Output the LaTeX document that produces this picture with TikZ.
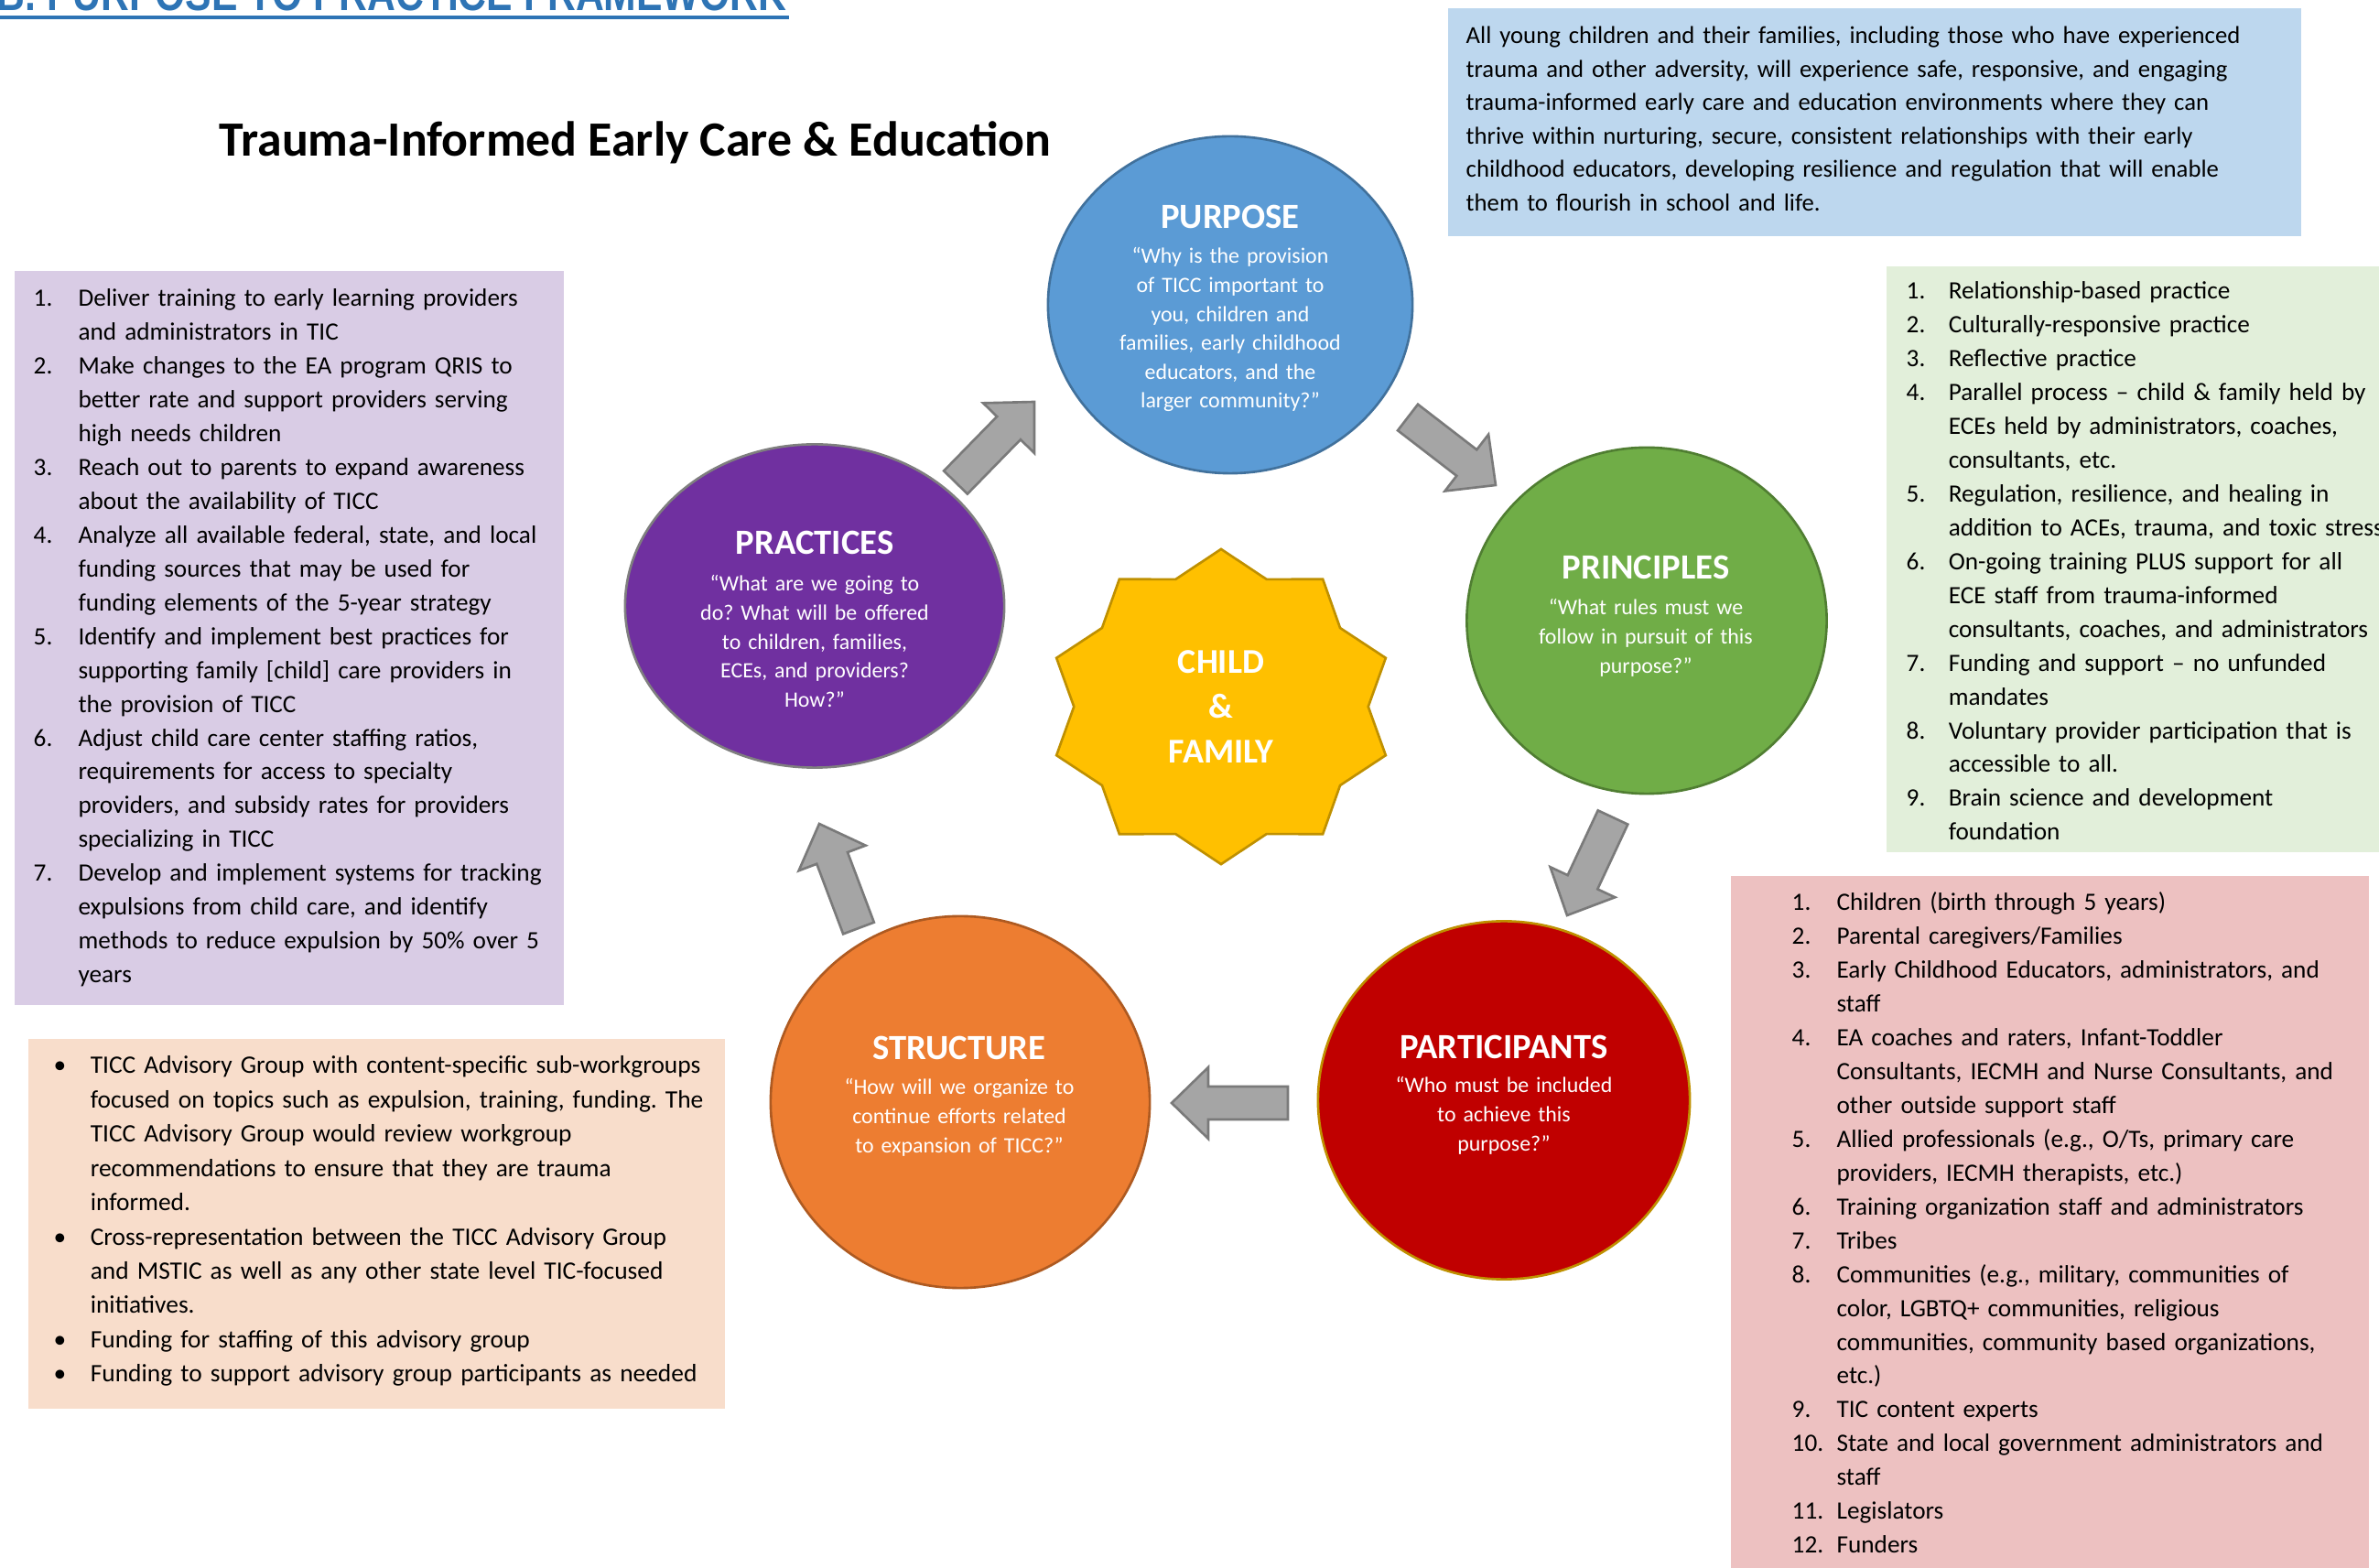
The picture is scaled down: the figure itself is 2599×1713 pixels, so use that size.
\documentclass[tikz,border=0pt]{standalone}
\usepackage{fontspec}
\setmainfont{Carlito}
\newfontfamily\headfont[FakeStretch=0.82]{Liberation Sans}
\usetikzlibrary{shapes.geometric,calc}
\frenchspacing

\definecolor{purposeblue}{HTML}{5B9BD5}
\definecolor{purposeedge}{HTML}{41719C}
\definecolor{principgreen}{HTML}{70AD47}
\definecolor{principedge}{HTML}{507E32}
\definecolor{partred}{HTML}{C00000}
\definecolor{goldedge}{HTML}{BF9000}
\definecolor{structorange}{HTML}{ED7D31}
\definecolor{structedge}{HTML}{AE5A21}
\definecolor{pracpurple}{HTML}{7030A0}
\definecolor{pracedge}{HTML}{7F7F7F}
\definecolor{childgold}{HTML}{FFC000}
\definecolor{arrowgray}{HTML}{A5A5A5}
\definecolor{arrowedge}{HTML}{7A7A7A}
\definecolor{headblue}{HTML}{2E74B5}
\definecolor{visionbox}{HTML}{BDD7EE}
\definecolor{pracbox}{HTML}{D9CCE5}
\definecolor{princbox}{HTML}{E2EFDA}
\definecolor{partbox}{HTML}{EDC1C1}
\definecolor{structbox}{HTML}{F8DDCB}

\newlength\listind
\newcommand\li[2]{\makebox[\listind][l]{#1}#2}
\newcommand\lc[1]{\hspace*{\listind}#1}

\newcommand\blockarrow[2]{%
  \coordinate (#1-hb) at ($(#2)!0.4cm!(#1)$);
  \filldraw[blockarr] ($(#1)!0.18cm!90:(#2)$) -- ($(#1-hb)!0.18cm!90:(#2)$)
    -- ($(#1-hb)!0.39cm!90:(#2)$) -- (#2) -- ($(#1-hb)!0.39cm!-90:(#2)$)
    -- ($(#1-hb)!0.18cm!-90:(#2)$) -- ($(#1)!0.18cm!-90:(#2)$) -- cycle;
}

\begin{document}
\begin{tikzpicture}[x=0.01cm,y=-0.01cm,
  circ/.style={ellipse,inner sep=0pt,line width=0.75pt},
  ctitle/.style={font=\fontsize{11}{13}\selectfont\bfseries,text=white,inner sep=0pt},
  cbody/.style={font=\fontsize{6.8}{8.96}\selectfont,text=white,align=center,text width=3.4cm,inner sep=0pt,anchor=base},
  listbox/.style={anchor=north west,inner sep=0pt},
  listtext/.style={font=\fontsize{7.75}{10.5}\selectfont,align=left,text width=10cm,inner sep=0pt,anchor=base west},
  blockarr/.style={fill=arrowgray,draw=arrowedge,line width=0.75pt,line join=miter}]
\useasboundingbox (0,0) rectangle (2599,1713);

\node at (-4,12) [anchor=base west,inner sep=0pt,text=headblue,font=\headfont\bfseries\fontsize{14.8}{16}\selectfont] (framework) {B. PURPOSE TO PRACTICE FRAMEWORK};
\draw[headblue,line width=1.3pt] (0,19) -- (862,19);

\node at (239,171) [anchor=base west,inner sep=0pt,font=\fontsize{15.3}{18}\selectfont\bfseries] (title) {Trauma-Informed Early Care \& Education};

\node at (1581,8) [listbox,fill=visionbox,minimum width=9.32cm,minimum height=2.49cm] (vision-box) {};
\node at (1601,48) [listtext,font=\fontsize{7.6}{10.38}\selectfont] (vision) {All young children and their families, including those who have experienced\\
trauma and other adversity, will experience safe, responsive, and engaging\\
trauma-informed early care and education environments where they can\\
thrive within nurturing, secure, consistent relationships with their early\\
childhood educators, developing resilience and regulation that will enable\\
them to flourish in school and life.};

\node at (15,295) [listbox,fill=pracbox,minimum width=6cm,minimum height=8.02cm] (prac-box) {};
\node at (36,335) [listtext] (prac-list) {\setlength\listind{13.9pt}%
\li{1.}{Deliver training to early learning providers}\\
\lc{and administrators in TIC}\\
\li{2.}{Make changes to the EA program QRIS to}\\
\lc{better rate and support providers serving}\\
\lc{high needs children}\\
\li{3.}{Reach out to parents to expand awareness}\\
\lc{about the availability of TICC}\\
\li{4.}{Analyze all available federal, state, and local}\\
\lc{funding sources that may be used for}\\
\lc{funding elements of the 5-year strategy}\\
\li{5.}{Identify and implement best practices for}\\
\lc{supporting family [child] care providers in}\\
\lc{the provision of TICC}\\
\li{6.}{Adjust child care center staffing ratios,}\\
\lc{requirements for access to specialty}\\
\lc{providers, and subsidy rates for providers}\\
\lc{specializing in TICC}\\
\li{7.}{Develop and implement systems for tracking}\\
\lc{expulsions from child care, and identify}\\
\lc{methods to reduce expulsion by 50\% over 5}\\
\lc{years}};

\node at (2060,290) [listbox,fill=princbox,minimum width=5.5cm,minimum height=6.4cm] (princ-box) {};
\node at (2082,327) [listtext] (princ-list) {\setlength\listind{13.1pt}%
\li{1.}{Relationship-based practice}\\
\li{2.}{Culturally-responsive practice}\\
\li{3.}{Reflective practice}\\
\li{4.}{Parallel process – child \& family held by}\\
\lc{ECEs held by administrators, coaches,}\\
\lc{consultants, etc.}\\
\li{5.}{Regulation, resilience, and healing in}\\
\lc{addition to ACEs, trauma, and toxic stress}\\
\li{6.}{On-going training PLUS support for all}\\
\lc{ECE staff from trauma-informed}\\
\lc{consultants, coaches, and administrators}\\
\li{7.}{Funding and support – no unfunded}\\
\lc{mandates}\\
\li{8.}{Voluntary provider participation that is}\\
\lc{accessible to all.}\\
\li{9.}{Brain science and development}\\
\lc{foundation}};

\node at (1890,956) [listbox,fill=partbox,minimum width=6.97cm,minimum height=7.7cm] (part-box) {};
\node at (1957,995) [listtext] (part-list) {\setlength\listind{13.9pt}%
\li{1.}{Children (birth through 5 years)}\\
\li{2.}{Parental caregivers/Families}\\
\li{3.}{Early Childhood Educators, administrators, and}\\
\lc{staff}\\
\li{4.}{EA coaches and raters, Infant-Toddler}\\
\lc{Consultants, IECMH and Nurse Consultants, and}\\
\lc{other outside support staff}\\
\li{5.}{Allied professionals (e.g., O/Ts, primary care}\\
\lc{providers, IECMH therapists, etc.)}\\
\li{6.}{Training organization staff and administrators}\\
\li{7.}{Tribes}\\
\li{8.}{Communities (e.g., military, communities of}\\
\lc{color, LGBTQ+ communities, religious}\\
\lc{communities, community based organizations,}\\
\lc{etc.)}\\
\li{9.}{TIC content experts}\\
\li{10.}{State and local government administrators and}\\
\lc{staff}\\
\li{11.}{Legislators}\\
\li{12.}{Funders}};

\node at (30,1134) [listbox,fill=structbox,minimum width=7.61cm,minimum height=4.04cm] (struct-box) {};
\node at (58,1173) [listtext,font=\fontsize{7.8}{10.64}\selectfont] (struct-list) {\setlength\listind{11.4pt}%
\li{•}{TICC Advisory Group with content-specific sub-workgroups}\\
\lc{focused on topics such as expulsion, training, funding. The}\\
\lc{TICC Advisory Group would review workgroup}\\
\lc{recommendations to ensure that they are trauma}\\
\lc{informed.}\\
\li{•}{Cross-representation between the TICC Advisory Group}\\
\lc{and MSTIC as well as any other state level TIC-focused}\\
\lc{initiatives.}\\
\li{•}{Funding for staffing of this advisory group}\\
\li{•}{Funding to support advisory group participants as needed}};

\node at (1344,333) [circ,fill=purposeblue,draw=purposeedge,minimum width=3.98cm,minimum height=3.68cm] (purpose) {};
\node at (1799,678) [circ,fill=principgreen,draw=principedge,minimum width=3.93cm,minimum height=3.78cm] (principles) {};
\node at (1643,1202) [circ,fill=partred,draw=goldedge,minimum width=4.06cm,minimum height=3.91cm] (participants) {};
\node at (1049,1204) [circ,fill=structorange,draw=structedge,minimum width=4.14cm,minimum height=4.06cm] (structure) {};
\node at (890,662) [circ,fill=pracpurple,draw=pracedge,minimum width=4.14cm,minimum height=3.53cm] (practices) {};

\coordinate (prac-out) at (1044,527);
\coordinate (purp-in) at (1130,439);
\coordinate (purp-out) at (1538,456);
\coordinate (princ-in) at (1634,530);
\coordinate (princ-out) at (1762,893);
\coordinate (part-in) at (1712,1000);
\coordinate (part-out) at (1407,1205);
\coordinate (struct-in) at (1280,1205);
\coordinate (struct-out) at (938,1014);
\coordinate (prac-in) at (895,900);
\blockarrow{prac-out}{purp-in}
\blockarrow{purp-out}{princ-in}
\blockarrow{princ-out}{part-in}
\blockarrow{part-out}{struct-in}
\blockarrow{struct-out}{prac-in}

\coordinate (cf) at (1334,772);
\begin{scope}[shift={(cf)},x=1.89cm,y=1.72cm]
\filldraw[fill=childgold,draw=goldedge,line width=0.75pt] (90:1)
  \foreach \k in {1,...,19} { -- ({90+18*\k}:{1-0.15*mod(\k,2)}) } -- cycle;
\end{scope}
\node at (cf) [align=center,text=white,inner sep=0pt,font=\fontsize{10.8}{13.9}\selectfont\bfseries] (child) {CHILD\\\&\\FAMILY};

\node at (1344,237) [ctitle] (purpose-t) {PURPOSE};
\node at (1344,288) [cbody] (purpose-q) {“Why is the provision\\of TICC important to\\you, children and\\families, early childhood\\educators, and the\\larger community?”};
\node at (1798,620) [ctitle] (principles-t) {PRINCIPLES};
\node at (1798,672) [cbody] (principles-q) {“What rules must we\\follow in pursuit of this\\purpose?”};
\node at (1643,1144) [ctitle] (participants-t) {PARTICIPANTS};
\node at (1643,1194) [cbody] (participants-q) {“Who must be included\\to achieve this\\purpose?”};
\node at (1048,1145) [ctitle] (structure-t) {STRUCTURE};
\node at (1048,1196) [cbody] (structure-q) {“How will we organize to\\continue efforts related\\to expansion of TICC?”};
\node at (890,593) [ctitle] (practices-t) {PRACTICES};
\node at (890,646) [cbody] (practices-q) {“What are we going to\\do? What will be offered\\to children, families,\\ECEs, and providers?\\How?”};
\end{tikzpicture}
\end{document}
